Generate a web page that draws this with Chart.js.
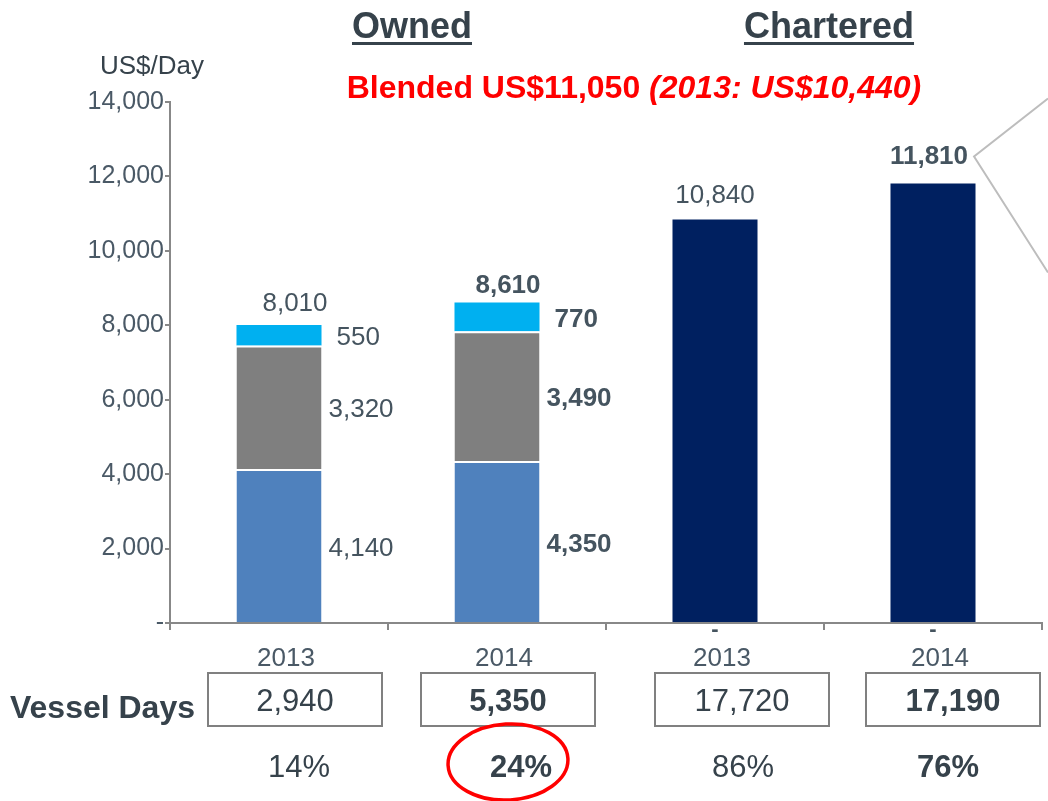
<!DOCTYPE html>
<html>
<head>
<meta charset="utf-8">
<title>Owned vs Chartered US$/Day</title>
<script src="https://cdn.jsdelivr.net/npm/chart.js@4.4.1/dist/chart.umd.min.js"></script>
<style>
  html, body { margin: 0; padding: 0; background: #fff; }
  canvas { display: block; }
</style>
</head>
<body>
<canvas id="barChart" width="1048" height="801"></canvas>
<script>
// data
var categories = ['2013', '2014', '2013', '2014'];
var groups = ['Owned', 'Chartered'];
var ownedBase = [4140, 4350, 0, 0];
var ownedMid = [3320, 3490, 0, 0];
var ownedTop = [550, 770, 0, 0];
var chartered = [0, 0, 10840, 11810];
var vesselDays = [2940, 5350, 17720, 17190];
var dayShare = [14, 24, 86, 76];
var yTicks = [0, 2000, 4000, 6000, 8000, 10000, 12000, 14000];
var blended = 11050;
var blendedPrev = 10440;
var boldCols = [false, true, false, true];

var fmt = function(v) { return v.toLocaleString('en-US'); };
var FONT = '"Liberation Sans", Arial, sans-serif';
var DARK = '#36424B';
var LABEL = '#45545F';

Chart.defaults.font.family = FONT;

// the boxes on the slide are not quite centred under the bars
var boxShift = [16, 11, 27, 20];
var shareShift = [20, 24, 28, 15];

var annotate = {
    id: 'annotate',
    afterDraw: function(chart) {
        var ctx = chart.ctx;
        var metas = [0, 1, 2, 3].map(function(i) { return chart.getDatasetMeta(i); });
        ctx.save();

        var owned = [ownedBase, ownedMid, ownedTop];
        categories.forEach(function(c, j) {
            var w = boldCols[j] ? 'bold ' : '';
            ctx.fillStyle = LABEL;
            var total = ownedBase[j] + ownedMid[j] + ownedTop[j];
            if (total > 0) {
                owned.forEach(function(arr, i) {
                    var bar = metas[i].data[j];
                    ctx.font = w + '26px ' + FONT;
                    ctx.textAlign = 'left';
                    ctx.textBaseline = 'middle';
                    var gap = i === 2 ? 15 : 7;
                    ctx.fillText(fmt(arr[j]), bar.x + bar.width / 2 + gap, (bar.y + bar.base) / 2 + 3);
                });
                var topBar = metas[2].data[j];
                ctx.textAlign = 'center';
                ctx.fillText(fmt(total), topBar.x + (boldCols[j] ? 11 : 16), topBar.y - (boldCols[j] ? 17 : 21));
            } else {
                // zero owned stack shows as a dash at the base
                var b = metas[0].data[j];
                ctx.font = 'bold 22px ' + FONT;
                ctx.textAlign = 'center';
                ctx.textBaseline = 'middle';
                ctx.fillText('-', b.x, b.base + 7);
            }
            if (chartered[j] > 0) {
                var cb = metas[3].data[j];
                ctx.font = w + '26px ' + FONT;
                ctx.textAlign = 'center';
                ctx.textBaseline = 'middle';
                var ly = cb.y - (boldCols[j] ? 27 : 24);
                var lx = cb.x - (boldCols[j] ? 4 : 0);
                ctx.fillText(fmt(chartered[j]), lx, ly);
                if (boldCols[j]) {
                    // callout lines to the right
                    var tw = ctx.measureText(fmt(chartered[j])).width;
                    ctx.strokeStyle = '#BDBDBD';
                    ctx.lineWidth = 2;
                    ctx.beginPath();
                    ctx.moveTo(chart.width, ly - 58);
                    ctx.lineTo(lx + tw / 2 + 6, ly);
                    ctx.lineTo(chart.width, ly + 116);
                    ctx.stroke();
                }
            }

            // x category labels, vessel days boxes, shares
            var cx = metas[0].data[j].x;
            ctx.font = '26px ' + FONT;
            ctx.fillStyle = '#4A5966';
            ctx.textAlign = 'center';
            ctx.textBaseline = 'middle';
            ctx.fillText(c, cx + 7, 659);

            var bx = cx + boxShift[j];
            ctx.strokeStyle = '#808080';
            ctx.lineWidth = 2;
            ctx.strokeRect(bx - 87, 673, 174, 53);
            ctx.fillStyle = DARK;
            ctx.font = w + '31px ' + FONT;
            ctx.fillText(fmt(vesselDays[j]), bx, 702);
            ctx.fillText(dayShare[j] + '%', cx + shareShift[j], 768);
            if (j === 1) {
                ctx.strokeStyle = '#FF0000';
                ctx.lineWidth = 3.5;
                ctx.beginPath();
                ctx.ellipse(cx + 11, 762, 60, 38, -0.06, 0, Math.PI * 2);
                ctx.stroke();
            }
        });

        // group headers
        ctx.fillStyle = DARK;
        ctx.font = 'bold 36px ' + FONT;
        ctx.textAlign = 'center';
        ctx.textBaseline = 'alphabetic';
        [[groups[0], 412], [groups[1], 829]].forEach(function(g) {
            ctx.fillText(g[0], g[1], 38);
            var gw = ctx.measureText(g[0]).width;
            ctx.fillRect(g[1] - gw / 2, 42, gw, 3);
        });

        // blended rate line
        var partA = 'Blended US$' + fmt(blended) + ' ';
        var partB = '(2013: US$' + fmt(blendedPrev) + ')';
        ctx.font = 'bold 32px ' + FONT;
        var wa = ctx.measureText(partA).width;
        ctx.font = 'italic bold 32px ' + FONT;
        var wb = ctx.measureText(partB).width;
        var sx = 634 - (wa + wb) / 2;
        ctx.fillStyle = '#FF0000';
        ctx.textAlign = 'left';
        ctx.font = 'bold 32px ' + FONT;
        ctx.fillText(partA, sx, 98);
        ctx.font = 'italic bold 32px ' + FONT;
        ctx.fillText(partB, sx + wa, 98);

        // unit + row title
        ctx.fillStyle = DARK;
        ctx.font = '26px ' + FONT;
        ctx.fillText('US$/Day', 100, 74);
        ctx.font = 'bold 32px ' + FONT;
        ctx.textAlign = 'right';
        ctx.fillText('Vessel Days', 195, 718);

        ctx.restore();
    }
};

var ctx = document.getElementById('barChart').getContext('2d');
var barChart = new Chart(ctx, {
    type: 'bar',
    data: {
        labels: categories,
        datasets: [{
            label: 'Base',
            data: ownedBase,
            backgroundColor: '#4F81BD',
            borderColor: '#FFFFFF',
            borderWidth: { top: 2, right: 0, bottom: 0, left: 0 }
        }, {
            label: 'Mid',
            data: ownedMid,
            backgroundColor: '#7F7F7F',
            borderColor: '#FFFFFF',
            borderWidth: { top: 2, right: 0, bottom: 0, left: 0 }
        }, {
            label: 'Top',
            data: ownedTop,
            backgroundColor: '#00B0F0'
        }, {
            label: 'Chartered',
            data: chartered,
            backgroundColor: '#002060'
        }]
    },
    options: {
        responsive: false,
        animation: false,
        barPercentage: 0.39,
        categoryPercentage: 1,
        layout: {
            padding: { top: 102, right: 6, bottom: 0, left: 0 }
        },
        plugins: {
            legend: { display: false },
            tooltip: { enabled: false }
        },
        scales: {
            x: {
                stacked: true,
                offset: true,
                grid: { drawOnChartArea: false, tickLength: 7, color: '#888888', lineWidth: 2 },
                border: { color: '#888888', width: 2 },
                ticks: { display: false },
                afterFit: function(scale) { scale.height = 178; }
            },
            y: {
                stacked: true,
                min: yTicks[0],
                max: yTicks[yTicks.length - 1],
                afterBuildTicks: function(scale) {
                    scale.ticks = yTicks.map(function(v) { return { value: v }; });
                },
                grid: { drawOnChartArea: false, tickLength: 5, color: '#888888', lineWidth: 2 },
                border: { color: '#888888', width: 2 },
                ticks: {
                    padding: 1,
                    color: '#4A5966',
                    font: { size: 25 },
                    callback: function(v) { return v === 0 ? '-' : fmt(v); }
                },
                afterFit: function(scale) { scale.width = 170; }
            }
        }
    },
    plugins: [annotate]
});
</script>
</body>
</html>
